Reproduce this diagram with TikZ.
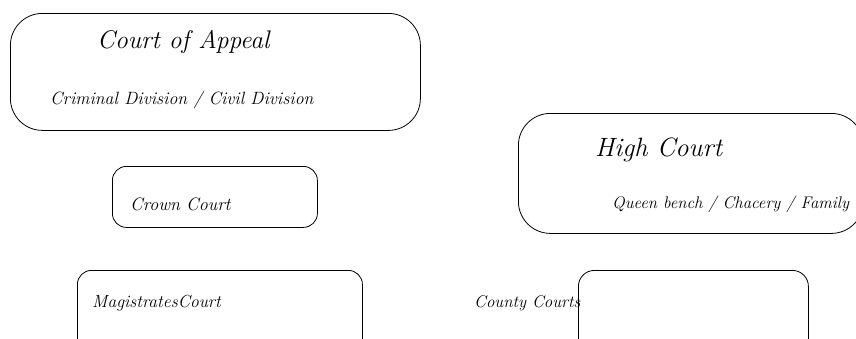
\documentclass[tikz,border=0pt]{standalone}
\begin{document}
\begin{tikzpicture}[x=1pt,y=-1pt,
  courtbox/.style={draw=black, line width=0.8pt, anchor=north west, inner sep=0pt},
  lbl/.style={anchor=west, inner sep=0pt, font=\itshape}]
\useasboundingbox (0,0) rectangle (856,338);
\clip (0,0) rectangle (856,338);
% boxes
\node[courtbox, rounded corners=32pt, minimum width=410pt, minimum height=117pt] (appeal) at (10,13) {};
\node[courtbox, rounded corners=32pt, minimum width=345pt, minimum height=120pt] (high) at (518,113) {};
\node[courtbox, rounded corners=14pt, minimum width=205pt, minimum height=61pt] (crown) at (112,166) {};
\node[courtbox, rounded corners=14pt, minimum width=285pt, minimum height=90pt] (mag) at (77,270) {};
\node[courtbox, rounded corners=16pt, minimum width=230pt, minimum height=90pt] (county) at (578,270) {};
% texts
\node[lbl, font=\itshape\fontsize{25.5}{28}\selectfont] (t1) at (97,42) {Court of Appeal};
\node[lbl, font=\itshape\fontsize{17.8}{20}\selectfont] (t2) at (50,100) {Criminal Division / Civil Division};
\node[lbl, font=\itshape\fontsize{26.5}{30}\selectfont] (t3) at (595,150) {High Court};
\node[lbl, font=\itshape\fontsize{16.8}{20}\selectfont] (t4) at (612,204) {Queen bench / Chacery / Family};
\node[lbl, font=\itshape\fontsize{18}{20}\selectfont] (t5) at (130,204) {Crown Court};
\node[lbl, font=\itshape\fontsize{17.5}{20}\selectfont] (t6) at (92,303) {MagistratesCourt};
\node[lbl, font=\itshape\fontsize{16.9}{20}\selectfont] (t7) at (474,303) {County Courts};
\end{tikzpicture}
\end{document}
